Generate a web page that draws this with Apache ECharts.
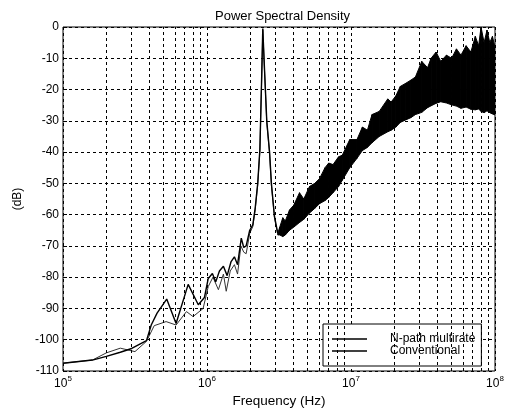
<!DOCTYPE html>
<html>
<head>
<meta charset="utf-8">
<script src="https://cdn.jsdelivr.net/npm/echarts@6/dist/echarts.min.js"></script>
<style>html,body{margin:0;padding:0;background:#fff;}#c{width:510px;height:414px;}</style>
</head>
<body>
<div id="c"></div>
<script>
// ---- data ----
const yTicks = [-110, -100, -90, -80, -70, -60, -50, -40, -30, -20, -10, 0];
const xDecades = [1e5, 1e6, 1e7, 1e8];
const minorTicks = [2e5,3e5,4e5,5e5,6e5,7e5,8e5,9e5,
                    2e6,3e6,4e6,5e6,6e6,7e6,8e6,9e6,
                    2e7,3e7,4e7,5e7,6e7,7e7,8e7,9e7];

const nFreq = [1e5, 1.6e5, 2e5, 2.5e5, 3e5, 3.8e5, 4.1e5, 4.5e5, 5.25e5, 6.1e5, 7.4e5, 8.7e5, 9.6e5, 1.02e6, 1.09e6, 1.15e6, 1.22e6, 1.3e6, 1.38e6, 1.47e6, 1.55e6, 1.63e6, 1.73e6, 1.8e6, 1.87e6, 1.98e6, 2.08e6, 2.16e6, 2.25e6, 2.33e6, 2.4e6, 2.44e6, 2.5e6, 2.6e6, 2.72e6, 2.8e6, 2.94e6, 3.1e6];
const nVal  = [-107.5, -106.5, -105.3, -104, -102.8, -100.3, -95.3, -91.5, -87, -94.8, -82.3, -88.8, -86.5, -80.4, -78.8, -81.5, -78, -76.5, -79.5, -75, -73.5, -76, -67.5, -70.5, -70, -65, -63.3, -58, -50, -39, -15, -0.5, -12, -30, -40, -50, -60.5, -66];

const cFreq = [1e5, 1.6e5, 2e5, 2.5e5, 3.16e5, 3.8e5, 4.3e5, 5.2e5, 6.1e5, 7.2e5, 8e5, 9.4e5, 1.02e6, 1.1e6, 1.2e6, 1.3e6, 1.36e6, 1.45e6, 1.55e6, 1.63e6, 1.72e6, 1.8e6, 1.87e6, 1.98e6, 2.08e6, 2.16e6, 2.25e6, 2.33e6, 2.4e6, 2.44e6, 2.5e6, 2.6e6, 2.72e6, 2.8e6, 2.94e6, 3.1e6];
const cVal  = [-107.5, -106.5, -104.2, -102.7, -103.8, -100.5, -95.5, -94.2, -95.3, -91, -92.6, -90, -83, -80, -84, -79, -84.5, -78, -76, -79, -70, -72, -72.5, -66, -63.8, -58.5, -50.5, -39.5, -15.5, -0.8, -12.5, -30.5, -40.5, -50.5, -61, -66.3];

// dense high-frequency noise band: lower and upper envelopes
const bandFreq = [3.1e6, 3.2e6, 3.36e6, 3.5e6, 3.74e6, 4.0e6, 4.39e6, 4.7e6, 5.15e6, 5.6e6, 6.04e6, 6.6e6, 7.0e6, 7.5e6, 8.2e6, 8.7e6, 9.8e6, 1.1e7, 1.2e7, 1.3e7, 1.4e7, 1.57e7, 1.8e7, 1.9e7, 2.05e7, 2.2e7, 2.4e7, 2.6e7, 2.8e7, 3.1e7, 3.4e7, 3.6e7, 3.9e7, 4.2e7, 4.6e7, 5.0e7, 5.4e7, 5.8e7, 6.3e7, 6.8e7, 7.3e7, 7.7e7, 8.0e7, 8.4e7, 8.8e7, 9.2e7, 9.6e7, 1e8];
const bandHi = [-66, -64, -61, -62, -58.5, -57, -53, -55, -51, -50, -48.5, -45, -43.5, -44, -41.5, -41, -36, -36, -32, -33, -28, -27, -23, -24, -22, -19, -18, -17, -16, -11, -13, -10, -8, -11, -9, -10, -7, -9, -6, -8, -3, -6, 0, -5, -1, -5, -3, -6.5];
const bandLo = [-66.5, -66.5, -67, -66.5, -65, -64, -62.5, -61.5, -59.5, -58, -56.5, -55.5, -54.5, -53, -51, -49, -45, -42, -39.5, -38.5, -37, -35, -33.5, -33, -32, -30.5, -29.7, -29, -28, -27.3, -25.8, -25.2, -24.4, -23.9, -24.3, -24.9, -25.3, -26, -25.6, -26.3, -26.5, -26.2, -27, -27.4, -26.8, -27.4, -27.8, -28.1];

const titleText = 'Power Spectral Density';
const xName = 'Frequency (Hz)';
const yName = '(dB)';
const names = ['N-path multirate', 'Conventional'];

// ---- chart ----
const FONT = '"Liberation Sans", Arial, Helvetica, sans-serif';
const pairs = (f, v) => f.map((x, i) => [x, v[i]]);
const dash = { color: '#000', width: 1, type: [3, 3] };

function renderBand(params, api) {
  const i = params.dataIndex;
  if (i >= bandFreq.length - 1) return null;
  const a = api.coord([bandFreq[i], bandLo[i]]);
  const b = api.coord([bandFreq[i + 1], bandLo[i + 1]]);
  const c = api.coord([bandFreq[i + 1], bandHi[i + 1]]);
  const d = api.coord([bandFreq[i], bandHi[i]]);
  return {
    type: 'polygon',
    shape: { points: [a, b, c, d] },
    style: { fill: '#000', stroke: '#000', lineWidth: 1 }
  };
}

const chart = echarts.init(document.getElementById('c'), null, { renderer: 'canvas' });
chart.setOption({
  animation: false,
  backgroundColor: '#fff',
  title: {
    text: titleText, left: 210, top: 5,
    textStyle: { fontFamily: FONT, fontSize: 13, fontWeight: 'normal', color: '#000' }
  },
  grid: { left: 63, right: 15, top: 27, bottom: 43, show: true, borderColor: '#000', borderWidth: 1, backgroundColor: '#fff' },
  legend: {
    data: names, orient: 'vertical', left: 323, top: 324,
    icon: 'rect', itemWidth: 35, itemHeight: 1.3, itemGap: 0,
    padding: [9, 6, 9, 9],
    backgroundColor: '#fff', borderColor: '#000', borderWidth: 1,
    itemStyle: { color: '#000' },
    textStyle: { fontFamily: FONT, fontSize: 12, color: '#000', lineHeight: 10, padding: [0, 0, 0, 18] },
    selectedMode: false
  },
  xAxis: {
    type: 'log', logBase: 10, min: xDecades[0], max: xDecades[xDecades.length - 1],
    name: xName, nameLocation: 'middle', nameGap: 22,
    nameTextStyle: { fontFamily: FONT, fontSize: 13.5, color: '#000' },
    axisLine: { show: false },
    axisTick: { show: false },
    splitLine: { show: true, lineStyle: dash },
    axisLabel: {
      margin: 4, color: '#000',
      formatter: v => '{b|10}{s|' + Math.round(Math.log10(v)) + '}',
      rich: {
        b: { fontFamily: FONT, fontSize: 12, color: '#000' },
        s: { fontFamily: FONT, fontSize: 8, color: '#000', padding: [0, 0, 9, 0] }
      }
    }
  },
  yAxis: {
    type: 'value', min: yTicks[0], max: yTicks[yTicks.length - 1], interval: 10,
    name: yName, nameLocation: 'middle', nameGap: 37, nameRotate: 90,
    nameTextStyle: { fontFamily: FONT, fontSize: 12, color: '#000' },
    axisLine: { show: false },
    axisTick: { show: true, inside: true, length: 4, lineStyle: { color: '#000' } },
    splitLine: { show: true, lineStyle: dash },
    axisLabel: { margin: 4, color: '#000', fontFamily: FONT, fontSize: 12 }
  },
  series: [
    {
      name: 'gridMinor', type: 'line', data: [], silent: true,
      markLine: {
        silent: true, symbol: 'none', label: { show: false },
        lineStyle: dash, animation: false,
        data: minorTicks.map(v => ({ xAxis: v }))
      }
    },
    {
      name: 'band', type: 'custom', silent: true, clip: true, z: 3,
      renderItem: renderBand,
      encode: { x: 0, y: [1, 2] },
      data: bandFreq.map((f, i) => [f, bandLo[i], bandHi[i]])
    },
    {
      name: names[1], type: 'line', data: pairs(cFreq, cVal), showSymbol: false,
      lineStyle: { color: '#333', width: 1 }, itemStyle: { color: '#000' }, z: 4
    },
    {
      name: names[0], type: 'line', data: pairs(nFreq, nVal), showSymbol: false,
      lineStyle: { color: '#000', width: 1.4 }, itemStyle: { color: '#000' }, z: 5
    }
  ]
});
</script>
</body>
</html>
